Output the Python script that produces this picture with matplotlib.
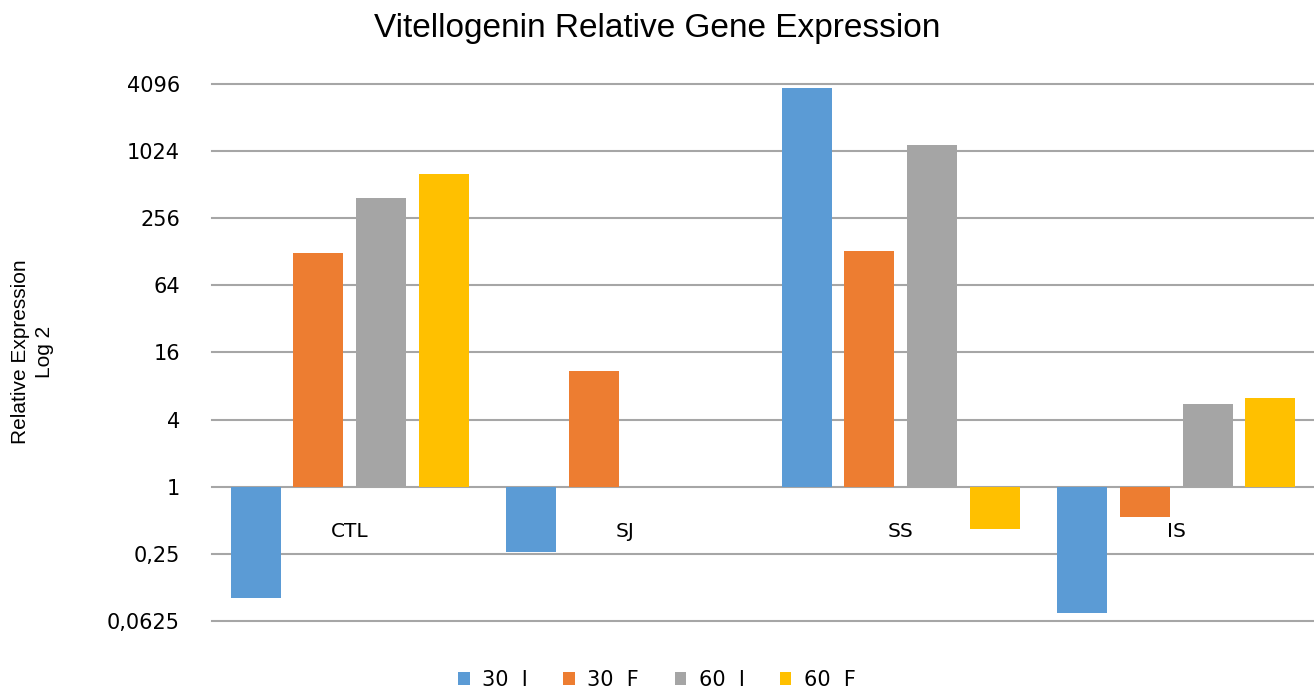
import matplotlib.pyplot as plt
import numpy as np

categories = ['CTL', 'SJ', 'SS', 'IS']
series = ['30  I', '30  F', '60  I', '60  F']
values = {
    '30  I': [0.10, 0.26, 3770, 0.073],
    '30  F': [126, 10.9, 131, 0.54],
    '60  I': [392, 1, 1165, 5.5],
    '60  F': [642, 1, 0.42, 6.25],
}
colors = ['#5B9BD5', '#ED7D31', '#A5A5A5', '#FFC000']
yticks = [0.0625, 0.25, 1, 4, 16, 64, 256, 1024, 4096]
ytick_labels = ['0,0625', '0,25', '1', '4', '16', '64', '256', '1024', '4096']

fig = plt.figure(figsize=(13.14, 6.9), dpi=100)
ax = fig.add_axes([212 / 1314, 0.1, 1 - 212 / 1314, 0.8783 - 0.1])

x = np.arange(len(categories))
width = 0.1815
step = 0.2276
for i, (name, c) in enumerate(zip(series, colors)):
    v = np.array(values[name])
    ax.bar(x + (i - 1.5) * step, v - 1, bottom=1, width=width, color=c,
           label=name, zorder=3)

ax.set_yscale('log', base=2)
ax.set_ylim(0.0625, 4096)
ax.set_xlim(-0.5, len(categories) - 0.5)
ax.set_yticks(yticks)
ax.set_yticklabels(ytick_labels, fontsize=15)
ax.minorticks_off()
ax.set_xticks([])
ax.tick_params(axis='y', length=0, pad=23)
ax.grid(axis='y', color='#A6A6A6', linewidth=1.5, zorder=0)
for gl in ax.get_ygridlines():
    gl.set_clip_on(False)
for s in ax.spines.values():
    s.set_visible(False)

for xi, cat in zip(x, categories):
    ax.text(xi, 0.40, cat, ha='center', va='center', fontsize=14.5, zorder=4)

fig.text(0.5, 0.958, 'Vitellogenin Relative Gene Expression', ha='center',
         va='center', fontsize=24, family='Liberation Sans')
fig.text(0.025, 0.49, 'Relative Expression\nLog 2', rotation=90, ha='center',
         va='center', fontsize=15, multialignment='center',
         family='Liberation Sans', linespacing=1.35)

fig.legend(loc='center', bbox_to_anchor=(0.5, 0.015), ncol=4, frameon=False,
           fontsize=15, handlelength=0.55, handleheight=0.55, handletextpad=0.6,
           columnspacing=1.7)

plt.savefig('out.png', dpi=100)
